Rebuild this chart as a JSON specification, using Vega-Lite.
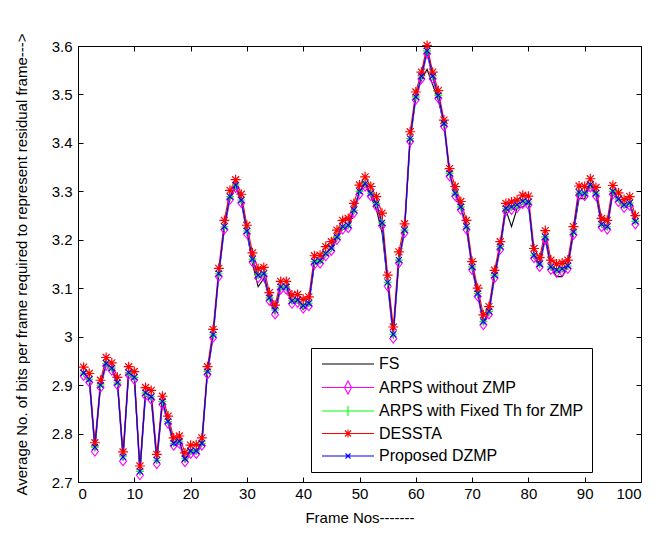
{
  "$schema": "https://vega.github.io/schema/vega-lite/v6.json",
  "width": 563,
  "height": 436,
  "autosize": {"type": "none"},
  "padding": {"left": 78, "top": 46, "right": 14, "bottom": 57},
  "background": "white",
  "config": {
    "font": "Liberation Sans",
    "view": {"stroke": "black", "strokeWidth": 1},
    "axis": {
      "grid": false,
      "domainColor": "black",
      "tickColor": "black",
      "labelColor": "black",
      "titleColor": "black",
      "labelFont": "Liberation Sans",
      "titleFont": "Liberation Sans",
      "labelFontSize": 15,
      "titleFontSize": 15,
      "titleFontWeight": "normal"
    }
  },
  "data": {
    "values": [
      {"n":1,"F":2.925,"A":2.919,"G":2.925,"D":2.937,"P":2.925},
      {"n":2,"F":2.912,"A":2.906,"G":2.912,"D":2.924,"P":2.912},
      {"n":3,"F":2.772,"A":2.763,"G":2.772,"D":2.781,"P":2.772},
      {"n":4,"F":2.900,"A":2.895,"G":2.900,"D":2.910,"P":2.900},
      {"n":5,"F":2.945,"A":2.940,"G":2.945,"D":2.957,"P":2.945},
      {"n":6,"F":2.935,"A":2.930,"G":2.935,"D":2.946,"P":2.935},
      {"n":7,"F":2.905,"A":2.900,"G":2.905,"D":2.916,"P":2.905},
      {"n":8,"F":2.752,"A":2.743,"G":2.752,"D":2.762,"P":2.752},
      {"n":9,"F":2.926,"A":2.921,"G":2.926,"D":2.938,"P":2.926},
      {"n":10,"F":2.916,"A":2.911,"G":2.916,"D":2.928,"P":2.916},
      {"n":11,"F":2.722,"A":2.714,"G":2.722,"D":2.733,"P":2.722},
      {"n":12,"F":2.884,"A":2.878,"G":2.884,"D":2.895,"P":2.884},
      {"n":13,"F":2.876,"A":2.870,"G":2.876,"D":2.889,"P":2.876},
      {"n":14,"F":2.745,"A":2.737,"G":2.745,"D":2.757,"P":2.745},
      {"n":15,"F":2.866,"A":2.860,"G":2.866,"D":2.877,"P":2.866},
      {"n":16,"F":2.825,"A":2.820,"G":2.825,"D":2.836,"P":2.825},
      {"n":17,"F":2.780,"A":2.775,"G":2.780,"D":2.791,"P":2.780},
      {"n":18,"F":2.784,"A":2.779,"G":2.784,"D":2.795,"P":2.784},
      {"n":19,"F":2.745,"A":2.741,"G":2.748,"D":2.760,"P":2.748},
      {"n":20,"F":2.764,"A":2.758,"G":2.764,"D":2.776,"P":2.764},
      {"n":21,"F":2.764,"A":2.758,"G":2.764,"D":2.777,"P":2.764},
      {"n":22,"F":2.780,"A":2.775,"G":2.780,"D":2.791,"P":2.780},
      {"n":23,"F":2.928,"A":2.922,"G":2.928,"D":2.938,"P":2.928},
      {"n":24,"F":3.004,"A":2.998,"G":3.004,"D":3.015,"P":3.004},
      {"n":25,"F":3.130,"A":3.124,"G":3.130,"D":3.141,"P":3.130},
      {"n":26,"F":3.227,"A":3.221,"G":3.227,"D":3.240,"P":3.227},
      {"n":27,"F":3.289,"A":3.283,"G":3.289,"D":3.302,"P":3.289},
      {"n":28,"F":3.313,"A":3.307,"G":3.313,"D":3.324,"P":3.313},
      {"n":29,"F":3.282,"A":3.276,"G":3.282,"D":3.294,"P":3.282},
      {"n":30,"F":3.215,"A":3.212,"G":3.218,"D":3.230,"P":3.218},
      {"n":31,"F":3.150,"A":3.154,"G":3.160,"D":3.173,"P":3.160},
      {"n":32,"F":3.103,"A":3.121,"G":3.127,"D":3.140,"P":3.127},
      {"n":33,"F":3.120,"A":3.124,"G":3.130,"D":3.143,"P":3.130},
      {"n":34,"F":3.080,"A":3.074,"G":3.080,"D":3.091,"P":3.080},
      {"n":35,"F":3.052,"A":3.046,"G":3.055,"D":3.065,"P":3.055},
      {"n":36,"F":3.103,"A":3.097,"G":3.103,"D":3.114,"P":3.103},
      {"n":37,"F":3.103,"A":3.097,"G":3.103,"D":3.114,"P":3.103},
      {"n":38,"F":3.074,"A":3.068,"G":3.074,"D":3.086,"P":3.074},
      {"n":39,"F":3.072,"A":3.070,"G":3.076,"D":3.087,"P":3.076},
      {"n":40,"F":3.056,"A":3.058,"G":3.064,"D":3.077,"P":3.064},
      {"n":41,"F":3.069,"A":3.063,"G":3.069,"D":3.082,"P":3.069},
      {"n":42,"F":3.150,"A":3.149,"G":3.155,"D":3.167,"P":3.155},
      {"n":43,"F":3.155,"A":3.151,"G":3.157,"D":3.168,"P":3.157},
      {"n":44,"F":3.172,"A":3.166,"G":3.172,"D":3.186,"P":3.172},
      {"n":45,"F":3.183,"A":3.177,"G":3.183,"D":3.196,"P":3.183},
      {"n":46,"F":3.206,"A":3.200,"G":3.206,"D":3.220,"P":3.206},
      {"n":47,"F":3.227,"A":3.221,"G":3.227,"D":3.240,"P":3.227},
      {"n":48,"F":3.230,"A":3.224,"G":3.230,"D":3.244,"P":3.230},
      {"n":49,"F":3.261,"A":3.255,"G":3.261,"D":3.275,"P":3.261},
      {"n":50,"F":3.300,"A":3.294,"G":3.300,"D":3.313,"P":3.300},
      {"n":51,"F":3.316,"A":3.310,"G":3.316,"D":3.330,"P":3.316},
      {"n":52,"F":3.290,"A":3.290,"G":3.296,"D":3.310,"P":3.296},
      {"n":53,"F":3.262,"A":3.269,"G":3.275,"D":3.289,"P":3.275},
      {"n":54,"F":3.215,"A":3.229,"G":3.235,"D":3.255,"P":3.235},
      {"n":55,"F":3.112,"A":3.104,"G":3.112,"D":3.127,"P":3.112},
      {"n":56,"F":3.005,"A":2.996,"G":3.005,"D":3.020,"P":3.005},
      {"n":57,"F":3.158,"A":3.152,"G":3.158,"D":3.175,"P":3.158},
      {"n":58,"F":3.220,"A":3.214,"G":3.220,"D":3.233,"P":3.220},
      {"n":59,"F":3.409,"A":3.403,"G":3.409,"D":3.423,"P":3.409},
      {"n":60,"F":3.495,"A":3.489,"G":3.495,"D":3.505,"P":3.495},
      {"n":61,"F":3.530,"A":3.532,"G":3.538,"D":3.546,"P":3.538},
      {"n":62,"F":3.552,"A":3.584,"G":3.590,"D":3.601,"P":3.590},
      {"n":63,"F":3.520,"A":3.532,"G":3.538,"D":3.546,"P":3.538},
      {"n":64,"F":3.488,"A":3.492,"G":3.498,"D":3.508,"P":3.498},
      {"n":65,"F":3.440,"A":3.434,"G":3.440,"D":3.447,"P":3.440},
      {"n":66,"F":3.337,"A":3.331,"G":3.337,"D":3.347,"P":3.337},
      {"n":67,"F":3.296,"A":3.290,"G":3.296,"D":3.310,"P":3.296},
      {"n":68,"F":3.268,"A":3.262,"G":3.268,"D":3.279,"P":3.268},
      {"n":69,"F":3.227,"A":3.221,"G":3.227,"D":3.240,"P":3.227},
      {"n":70,"F":3.144,"A":3.138,"G":3.144,"D":3.155,"P":3.144},
      {"n":71,"F":3.089,"A":3.083,"G":3.089,"D":3.100,"P":3.089},
      {"n":72,"F":3.028,"A":3.024,"G":3.031,"D":3.045,"P":3.031},
      {"n":73,"F":3.052,"A":3.046,"G":3.052,"D":3.062,"P":3.052},
      {"n":74,"F":3.127,"A":3.121,"G":3.127,"D":3.137,"P":3.127},
      {"n":75,"F":3.186,"A":3.180,"G":3.186,"D":3.196,"P":3.186},
      {"n":76,"F":3.262,"A":3.259,"G":3.265,"D":3.275,"P":3.265},
      {"n":77,"F":3.227,"A":3.262,"G":3.268,"D":3.278,"P":3.268},
      {"n":78,"F":3.265,"A":3.266,"G":3.272,"D":3.282,"P":3.272},
      {"n":79,"F":3.268,"A":3.274,"G":3.280,"D":3.292,"P":3.280},
      {"n":80,"F":3.275,"A":3.272,"G":3.278,"D":3.290,"P":3.278},
      {"n":81,"F":3.168,"A":3.162,"G":3.168,"D":3.182,"P":3.168},
      {"n":82,"F":3.150,"A":3.144,"G":3.150,"D":3.163,"P":3.150},
      {"n":83,"F":3.206,"A":3.200,"G":3.206,"D":3.219,"P":3.206},
      {"n":84,"F":3.144,"A":3.138,"G":3.144,"D":3.158,"P":3.144},
      {"n":85,"F":3.124,"A":3.132,"G":3.138,"D":3.150,"P":3.138},
      {"n":86,"F":3.124,"A":3.134,"G":3.140,"D":3.152,"P":3.140},
      {"n":87,"F":3.146,"A":3.140,"G":3.146,"D":3.158,"P":3.146},
      {"n":88,"F":3.216,"A":3.210,"G":3.216,"D":3.227,"P":3.216},
      {"n":89,"F":3.285,"A":3.292,"G":3.298,"D":3.311,"P":3.298},
      {"n":90,"F":3.285,"A":3.290,"G":3.296,"D":3.310,"P":3.296},
      {"n":91,"F":3.314,"A":3.308,"G":3.314,"D":3.326,"P":3.314},
      {"n":92,"F":3.296,"A":3.290,"G":3.296,"D":3.308,"P":3.296},
      {"n":93,"F":3.232,"A":3.226,"G":3.232,"D":3.244,"P":3.232},
      {"n":94,"F":3.225,"A":3.221,"G":3.227,"D":3.240,"P":3.227},
      {"n":95,"F":3.300,"A":3.294,"G":3.300,"D":3.312,"P":3.300},
      {"n":96,"F":3.284,"A":3.278,"G":3.284,"D":3.297,"P":3.284},
      {"n":97,"F":3.272,"A":3.266,"G":3.272,"D":3.283,"P":3.272},
      {"n":98,"F":3.276,"A":3.270,"G":3.276,"D":3.289,"P":3.276},
      {"n":99,"F":3.238,"A":3.232,"G":3.238,"D":3.250,"P":3.238}
    ]
  },
  "transform": [{"fold": ["F", "A", "G", "D", "P"], "as": ["series", "value"]}],
  "layer": [
    {
      "mark": {"type": "line", "strokeWidth": 1.1},
      "encoding": {
        "x": {
          "field": "n", "type": "quantitative",
          "scale": {"domain": [0, 100], "nice": false},
          "axis": {
            "orient": "bottom",
            "values": [0, 10, 20, 30, 40, 50, 60, 70, 80, 90, 100],
            "tickSize": -5,
            "labelPadding": 9,
            "title": "Frame Nos-------",
            "titlePadding": 9
          }
        },
        "y": {
          "field": "value", "type": "quantitative",
          "scale": {"domain": [2.7, 3.6], "nice": false, "zero": false},
          "axis": {
            "orient": "left",
            "values": [2.7, 2.8, 2.9, 3, 3.1, 3.2, 3.3, 3.4, 3.5, 3.6],
            "format": "~g",
            "tickSize": -5,
            "labelPadding": 11,
            "title": "Average No. of bits per frame required to represent residual frame--->",
            "titlePadding": 22
          }
        },
        "color": {
          "field": "series", "type": "nominal",
          "scale": {"domain": ["F", "A", "G", "D", "P"], "range": ["#000000", "#ff00ff", "#00ff00", "#ff0000", "#0000ff"]},
          "legend": {
            "orient": "none",
            "legendX": 233,
            "legendY": 302,
            "title": null,
            "padding": 8,
            "strokeColor": "black",
            "fillColor": "white",
            "labelFont": "Liberation Sans",
            "labelFontSize": 16,
            "labelColor": "black",
            "labelLimit": 400,
            "labelOffset": 44,
            "rowPadding": 6.5,
            "symbolSize": 100,
            "symbolStrokeWidth": 1.1,
            "labelExpr": "datum.value == 'F' ? 'FS' : datum.value == 'A' ? 'ARPS without ZMP' : datum.value == 'G' ? 'ARPS with Fixed Th for ZMP' : datum.value == 'D' ? 'DESSTA' : 'Proposed DZMP'",
            "encode": {
              "symbols": {
                "update": {
                  "fill": {"value": "transparent"},
                  "shape": {"signal": "datum.value == 'F' ? 'M-1,0H9.4' : datum.value == 'A' ? 'M-1,0H9.4M4.2,-1.3L4.9,0L4.2,1.3L3.5,0Z' : datum.value == 'G' ? 'M-1,0H9.4M4.2,-1V1' : datum.value == 'D' ? 'M-1,0H9.4M4.2,-0.8V0.8M3.6,-0.6L4.8,0.6M3.6,0.6L4.8,-0.6' : 'M-1,0H9.4M3.7,-0.5L4.7,0.5M3.7,0.5L4.7,-0.5'"}
                }
              }
            }
          }
        }
      }
    },
    {
      "transform": [{"filter": "datum.series == 'A'"}],
      "mark": {"type": "point", "filled": false, "size": 100, "strokeWidth": 1.1, "opacity": 1, "color": "#ff00ff", "shape": "M0,-0.9L0.7,0L0,0.9L-0.7,0Z"},
      "encoding": {
        "x": {
          "field": "n", "type": "quantitative",
          "axis": {"orient": "top", "values": [0, 10, 20, 30, 40, 50, 60, 70, 80, 90, 100], "tickSize": -5, "labels": false, "title": null}
        },
        "y": {
          "field": "value", "type": "quantitative",
          "axis": {"orient": "right", "values": [2.7, 2.8, 2.9, 3, 3.1, 3.2, 3.3, 3.4, 3.5, 3.6], "tickSize": -5, "labels": false, "title": null}
        }
      }
    },
    {
      "transform": [{"filter": "datum.series == 'G'"}],
      "mark": {"type": "point", "filled": false, "size": 100, "strokeWidth": 1.1, "opacity": 1, "color": "#00ff00", "shape": "M-0.8,0H0.8M0,-0.8V0.8"},
      "encoding": {
        "x": {"field": "n", "type": "quantitative", "axis": null},
        "y": {"field": "value", "type": "quantitative", "axis": null}
      }
    },
    {
      "transform": [{"filter": "datum.series == 'D'"}],
      "mark": {"type": "point", "filled": false, "size": 100, "strokeWidth": 1.2, "opacity": 1, "color": "#ff0000", "shape": "M-1,0H1M0,-1V1M-0.7,-0.7L0.7,0.7M-0.7,0.7L0.7,-0.7"},
      "encoding": {
        "x": {"field": "n", "type": "quantitative", "axis": null},
        "y": {"field": "value", "type": "quantitative", "axis": null}
      }
    },
    {
      "transform": [{"filter": "datum.series == 'P'"}],
      "mark": {"type": "point", "filled": false, "size": 100, "strokeWidth": 1.1, "opacity": 1, "color": "#0000ff", "shape": "M-0.6,-0.6L0.6,0.6M-0.6,0.6L0.6,-0.6"},
      "encoding": {
        "x": {"field": "n", "type": "quantitative", "axis": null},
        "y": {"field": "value", "type": "quantitative", "axis": null}
      }
    }
  ],
  "resolve": {"axis": {"x": "independent", "y": "independent"}}
}
